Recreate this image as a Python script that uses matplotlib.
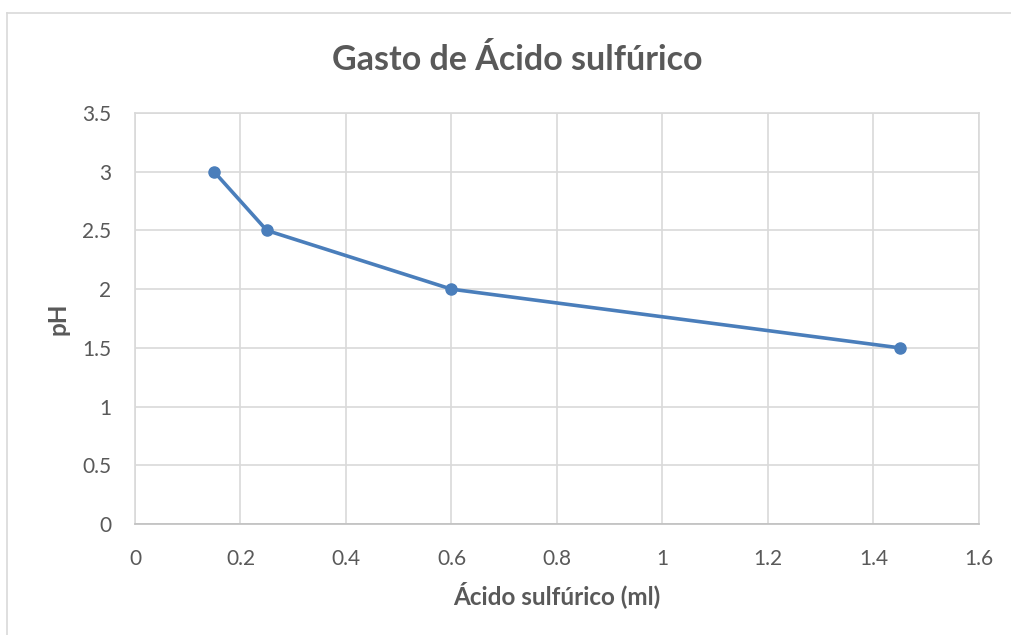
import matplotlib.pyplot as plt
from matplotlib.lines import Line2D

acido = [0.15, 0.25, 0.6, 1.45]
ph = [3.0, 2.5, 2.0, 1.5]
xticks = [0, 0.2, 0.4, 0.6, 0.8, 1, 1.2, 1.4, 1.6]
yticks = [0, 0.5, 1, 1.5, 2, 2.5, 3, 3.5]

plt.rcParams['font.family'] = ['Lato', 'DejaVu Sans']
gris = '#595959'

fig = plt.figure(figsize=(10.11, 6.35), dpi=100)
ax = fig.add_axes([0.1335, 0.1748, 0.9683 - 0.1335, 0.822 - 0.1748])

ax.plot(acido, ph, color='#4A7EBB', lw=2.6, marker='o', markersize=8,
        solid_capstyle='round')

ax.set_xlim(0, 1.6)
ax.set_ylim(0, 3.5)
ax.set_xticks(xticks)
ax.set_yticks(yticks)
ax.set_xticklabels([str(t) for t in xticks])
ax.set_yticklabels([str(t) for t in yticks])
ax.grid(True, color='#D9D9D9', lw=1.2)
ax.set_axisbelow(True)
ax.tick_params(length=0, labelsize=15, labelcolor=gris)
ax.tick_params(axis='x', pad=18)
ax.tick_params(axis='y', pad=17)
for s in ax.spines.values():
    s.set_color('#D9D9D9')
    s.set_linewidth(1.2)
ax.spines['bottom'].set_color('#BFBFBF')

ax.set_xlabel('Ácido sulfúrico (ml)', fontsize=17.5, fontweight='bold', color=gris, labelpad=9)
ax.set_ylabel('pH', fontsize=17.5, fontweight='bold', color=gris, labelpad=9)
fig.text(0.512, 0.905, 'Gasto de Ácido sulfúrico', ha='center', va='center',
         fontsize=24.5, fontweight='bold', color=gris)

# marco del gráfico
fig.add_artist(Line2D([7 / 1011, 7 / 1011], [0, 1 - 13 / 635], transform=fig.transFigure,
                      color='#D9D9D9', lw=1.2))
fig.add_artist(Line2D([7 / 1011, 1], [1 - 13 / 635, 1 - 13 / 635], transform=fig.transFigure,
                      color='#D9D9D9', lw=1.2))

fig.savefig('out.png', dpi=100)
